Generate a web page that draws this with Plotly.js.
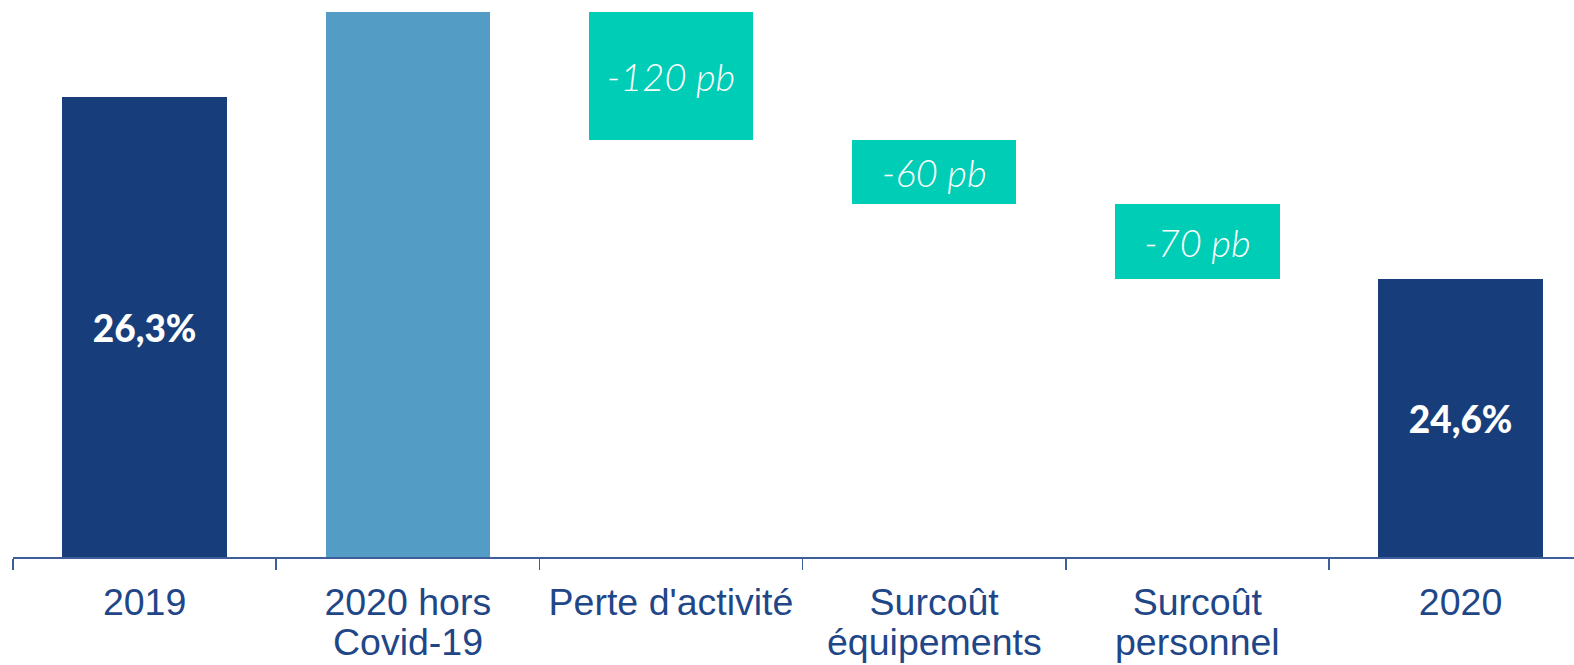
<!DOCTYPE html>
<html><head><meta charset="utf-8">
<script src="https://cdn.plot.ly/plotly-3.0.1.min.js"></script>
<style>html,body{margin:0;padding:0;background:#fff;}#chart{width:1574px;height:665px;}</style>
</head><body><div id="chart"></div>
<script>
const categories = ["2019", "2020 hors Covid-19", "Perte d'activité", "Surcoût équipements", "Surcoût personnel", "2020"];
const tickLine1 = ["2019", "2020 hors", "Perte d'activité", "Surcoût", "Surcoût", "2020"];
const tickLine2 = ["", "Covid-19", "", "équipements", "personnel", ""];
// kind: total = absolute level, step = change in percentage points
const kinds = ["total", "total", "step", "step", "step", "total"];
const values = [26.3, 27.1, -1.2, -0.6, -0.7, 24.6];
const barLabels = ["26,3%", "", "-120 pb", "-60 pb", "-70 pb", "24,6%"];
const axisFloor = 22;
const axisTop = 27.21;

const colors = ["#173e7a", "#529cc6", "#00cdb5", "#00cdb5", "#00cdb5", "#173e7a"];
const labelColor = "#1f4788";
const tickFontSize = 37.5;

let level = 0;
const bases = [], heights = [];
for (let i = 0; i < values.length; i++) {
  if (kinds[i] === "total") {
    bases.push(axisFloor); heights.push(values[i] - axisFloor); level = values[i];
  } else {
    const next = level + values[i];
    bases.push(next); heights.push(level - next); level = next;
  }
}

const fontFam = kinds.map(k => "Lato, 'Open Sans', sans-serif");
const fontStyle = kinds.map(k => k === "step" ? "italic" : "normal");
const fontWeight = kinds.map(k => k === "step" ? 300 : 900);
const fontSize = kinds.map(k => k === "step" ? 38 : 37);

const trace = {
  type: "bar",
  x: categories,
  y: heights,
  base: bases,
  width: 0.625,
  marker: {color: colors, line: {width: 0}},
  text: barLabels,
  textposition: "inside",
  insidetextanchor: "middle",
  textangle: 0,
  constraintext: "none",
  textfont: {family: fontFam, size: fontSize, color: "#ffffff", style: fontStyle, weight: fontWeight},
  insidetextfont: {family: fontFam, size: fontSize, color: "#ffffff", style: fontStyle, weight: fontWeight},
  hoverinfo: "skip"
};

const annotations = categories.map((c, i) => ({
  xref: "x", yref: "paper", x: c, y: 0,
  yanchor: "middle", xanchor: "center", yshift: -85,
  text: tickLine2[i], showarrow: false,
  font: {family: "'Liberation Sans', Arial, sans-serif", size: tickFontSize, color: labelColor}
})).filter(a => a.text);

const layout = {
  width: 1574, height: 665,
  margin: {l: 13, r: 0, t: 0, b: 108},
  paper_bgcolor: "#ffffff", plot_bgcolor: "#ffffff",
  showlegend: false,
  bargap: 0,
  annotations: annotations,
  xaxis: {
    type: "category",
    range: [-0.5, 5.431],
    tickmode: "array", tickvals: categories, ticktext: tickLine1,
    tickson: "boundaries",
    ticks: "outside", ticklen: 11, tickwidth: 1.5, tickcolor: "#3d5e99",
    ticklabelstandoff: 11,
    showline: true, linecolor: "#3d5e99", linewidth: 1.5,
    showgrid: false, zeroline: false,
    tickfont: {family: "'Liberation Sans', Arial, sans-serif", size: tickFontSize, color: labelColor},
    fixedrange: true
  },
  yaxis: {
    range: [axisFloor, axisTop],
    visible: false, showgrid: false, zeroline: false, fixedrange: true
  }
};

Plotly.newPlot("chart", [trace], layout, {displayModeBar: false, staticPlot: true});
</script>
</body></html>
